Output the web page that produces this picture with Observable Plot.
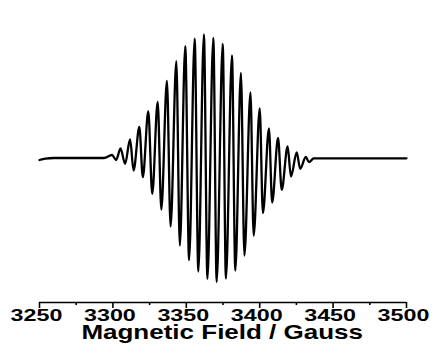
<!DOCTYPE html>
<html>
<head>
<meta charset="utf-8">
<script src="https://cdn.jsdelivr.net/npm/d3@7"></script>
<script src="https://cdn.jsdelivr.net/npm/@observablehq/plot@0.6"></script>
<style>
  html, body { margin: 0; padding: 0; background: #fff; }
  svg { display: block; }
</style>
</head>
<body>
<script>
// Magnetic field (Gauss) of each baseline point / extremum of the spectrum
const field = [
  3250.0, 3254.0, 3260.0, 3294.0,
  3299.4, 3302.2, 3305.2, 3308.3, 3311.7, 3314.1, 3318.0, 3320.4,
  3324.1, 3326.8, 3330.5, 3333.0, 3336.8, 3339.3, 3343.2, 3345.6,
  3349.3, 3351.9, 3355.7, 3358.2, 3362.0, 3364.4, 3368.4, 3370.7,
  3374.8, 3377.0, 3381.1, 3383.4, 3387.2, 3389.6, 3393.7, 3395.9,
  3400.0, 3402.2, 3406.3, 3408.5, 3412.5, 3415.0, 3419.0, 3421.3,
  3425.2, 3427.6, 3431.4, 3433.6, 3436.8, 3500.0
];
// Signal intensity (arbitrary units) at those fields
const intensity = [
  -2.0, -0.6, 0.0, 0.0,
  3.0, -2.0, 9.5, -5.8, 18.5, -12.5, 31.0, -19.2,
  46.8, -35.8, 56.2, -51.5, 77.2, -68.5, 96.8, -87.5,
  111.8, -102.2, 119.3, -113.5, 123.5, -120.8, 120.2, -124.0,
  114.0, -120.5, 102.5, -112.5, 85.2, -97.5, 65.7, -77.5,
  49.7, -55.2, 29.7, -44.5, 20.0, -31.8, 11.5, -18.5,
  5.5, -10.8, 1.0, -4.2, -0.3, -0.3
];
const majorTicks = [3250, 3300, 3350, 3400, 3450, 3500];
const minorTicks = [3275, 3325, 3375, 3425, 3475];
const xTitle = "Magnetic Field / Gauss";
const yDomain = [-144.5, 157.5];

const data = field.map((x, i) => ({field: x, intensity: intensity[i]}));

const chart = Plot.plot({
  width: 436,
  height: 362,
  marginLeft: 39,
  marginRight: 30,
  marginTop: 0,
  marginBottom: 60,
  style: {fontFamily: "'Liberation Sans', Arial, sans-serif", background: "#fff", color: "#000"},
  x: {domain: [3250, 3500], label: null},
  y: {domain: yDomain, axis: null, label: null},
  marks: [
    Plot.line(data, {x: "field", y: "intensity", curve: "monotone-x", stroke: "#000", strokeWidth: 2.3}),
    Plot.ruleY([yDomain[0]], {stroke: "#000", strokeWidth: 1.6}),
    Plot.axisX(minorTicks, {tickSize: 3, tickFormat: () => "", strokeWidth: 1.6, label: null}),
    Plot.axisX(majorTicks, {tickSize: 6, tickPadding: 0, tickFormat: d => String(d), strokeWidth: 1.6,
      fontSize: 17, fontWeight: "bold", label: null}),
    Plot.text([xTitle], {frameAnchor: "bottom", lineAnchor: "top", dy: 22, fontSize: 20, fontWeight: "bold", fill: "#000"})
  ]
});
document.body.append(chart);

// The reference lettering is horizontally stretched: widen each text about its own centre
chart.querySelectorAll("text").forEach(t => {
  const b = t.getBBox();
  if (!b.width) return;
  const isTick = /^\d+$/.test(t.textContent.trim());
  const s = isTick ? 1.37 : 1.3;
  const shift = isTick ? -3 : -0.8;
  const cx = b.x + b.width / 2;
  const orig = t.getAttribute("transform") || "";
  t.setAttribute("transform", `${orig} translate(${cx + shift},0) scale(${s},1) translate(${-cx},0)`);
});
</script>
</body>
</html>
